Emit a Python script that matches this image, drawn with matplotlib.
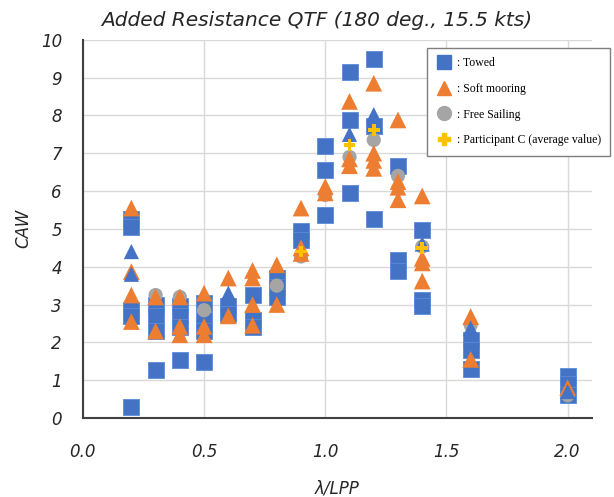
import matplotlib
matplotlib.use("Agg")
import matplotlib.pyplot as plt
from matplotlib.lines import Line2D

# Towed (blue squares)
towed_x = [0.2, 0.2, 0.2, 0.2, 0.2,
           0.3, 0.3, 0.3, 0.3,
           0.4, 0.4, 0.4, 0.4,
           0.5, 0.5, 0.5, 0.5,
           0.6, 0.6,
           0.7, 0.7, 0.7,
           0.8, 0.8, 0.8,
           0.9, 0.9,
           1.0, 1.0, 1.0,
           1.1, 1.1, 1.1,
           1.2, 1.2, 1.2,
           1.3, 1.3, 1.3,
           1.4, 1.4, 1.4,
           1.6, 1.6, 1.6,
           2.0, 2.0, 2.0]
towed_y = [5.25, 5.05, 2.85, 2.7, 0.3,
           3.0, 2.7, 2.3, 1.27,
           2.95, 2.7, 2.4, 1.53,
           3.05, 2.6, 2.3, 1.49,
           2.95, 2.75,
           3.25, 2.6, 2.4,
           3.7, 3.45, 3.2,
           4.95, 4.7,
           7.2, 6.55, 5.37,
           9.16, 7.88, 5.94,
           9.49, 7.71, 5.25,
           6.65, 4.19, 3.88,
           4.97, 3.12, 2.95,
           2.06, 1.8, 1.29,
           1.1, 0.9, 0.6]

# Soft mooring (orange triangles)
soft_x = [0.2, 0.2, 0.2, 0.2,
          0.3, 0.3,
          0.4, 0.4, 0.4,
          0.5, 0.5, 0.5,
          0.6, 0.6,
          0.7, 0.7, 0.7, 0.7,
          0.8, 0.8,
          0.9, 0.9, 0.9,
          1.0, 1.0,
          1.1, 1.1, 1.1,
          1.2, 1.2, 1.2, 1.2,
          1.3, 1.3, 1.3, 1.3,
          1.4, 1.4, 1.4, 1.4,
          1.6, 1.6,
          2.0]
soft_y = [5.55, 3.87, 3.25, 2.55,
          3.2, 2.3,
          3.2, 2.42, 2.2,
          3.3, 2.42, 2.2,
          3.7, 2.7,
          3.9, 3.7, 3.0, 2.45,
          4.05, 3.0,
          5.55, 4.5, 4.35,
          6.12, 5.95,
          8.37, 6.85, 6.67,
          8.85, 7.0, 6.81, 6.6,
          7.88, 6.25, 6.1, 5.77,
          5.87, 4.22, 4.1, 3.62,
          2.68, 1.55,
          0.8]

# Soft mooring, second participant (blue triangles)
soft2_x = [0.2, 0.2, 0.6, 1.1, 1.2, 1.4, 1.6, 2.0]
soft2_y = [4.4, 3.8, 3.3, 7.5, 8.02, 4.6, 2.38, 0.7]

# Free sailing (grey circles)
free_x = [0.3, 0.4, 0.5, 0.8, 0.9, 1.0, 1.1, 1.2, 1.3, 1.4, 1.6, 2.0]
free_y = [3.25, 3.2, 2.85, 3.5, 4.27, 5.9, 6.9, 7.35, 6.4, 4.53, 2.46, 0.6]

# Participant C average values (yellow plus)
partc_x = [0.9, 1.1, 1.2, 1.4]
partc_y = [4.4, 7.22, 7.62, 4.5]

x_ticks = [0.0, 0.5, 1.0, 1.5, 2.0]
x_ticklabels = ["0.0", "0.5", "1.0", "1.5", "2.0"]
y_ticks = list(range(0, 11))

BLUE = "#4472C4"
ORANGE = "#ED7D31"
GREY = "#A5A5A5"
YELLOW = "#FFC000"

fig = plt.figure(figsize=(6.14, 4.97), dpi=100)
ax = fig.add_axes([0.135, 0.159, 0.829, 0.761])

ax.scatter(towed_x, towed_y, marker="s", s=135, color=BLUE,
           edgecolors="#5B8BD9", linewidths=0.6, zorder=3)
ax.scatter(free_x, free_y, marker="o", s=105, color=GREY,
           edgecolors="none", zorder=4)
ax.scatter(soft_x, soft_y, marker="^", s=145, color=ORANGE,
           edgecolors="none", zorder=5)
ax.scatter(soft2_x, soft2_y, marker="^", s=120, color=BLUE,
           edgecolors="none", zorder=6)
ax.scatter(partc_x, partc_y, marker="P", s=70, color=YELLOW,
           edgecolors="none", zorder=7)

ax.set_xlim(0, 2.1)
ax.set_ylim(0, 10)
ax.set_xticks(x_ticks)
ax.set_xticklabels(x_ticklabels)
ax.set_yticks(y_ticks)
ax.grid(True, color="#D9D9D9", linewidth=1.0, zorder=0)
ax.set_axisbelow(True)

for side in ("top", "right"):
    ax.spines[side].set_visible(False)
for side in ("left", "bottom"):
    ax.spines[side].set_color("#404040")
    ax.spines[side].set_linewidth(1.5)

ax.tick_params(axis="both", length=0, labelsize=12, labelcolor="#262626")
ax.tick_params(axis="x", pad=18)
ax.tick_params(axis="y", pad=15)
for lab in ax.get_xticklabels() + ax.get_yticklabels():
    lab.set_fontstyle("italic")

ax.set_xlabel("λ/LPP", fontsize=12, fontstyle="italic", color="#262626",
              labelpad=13)
ax.set_ylabel("CAW", fontsize=12, fontstyle="italic", color="#262626",
              labelpad=6)
fig.text(0.515, 0.958, "Added Resistance QTF (180 deg., 15.5 kts)",
         fontsize=14.5, fontstyle="italic", color="#262626",
         ha="center", va="center")

handles = [
    Line2D([], [], linestyle="none", marker="s", markersize=10,
           color=BLUE),
    Line2D([], [], linestyle="none", marker="^", markersize=10,
           color=ORANGE),
    Line2D([], [], linestyle="none", marker="o", markersize=10,
           color=GREY),
    Line2D([], [], linestyle="none", marker="P", markersize=8,
           color=YELLOW),
]
labels = [": Towed", ": Soft mooring", ": Free Sailing",
          ": Participant C (average value)"]
leg = ax.legend(handles, labels, loc="upper left",
                bbox_to_anchor=(427 / 614, 1 - 48 / 497),
                bbox_transform=fig.transFigure,
                prop={"family": "Liberation Serif", "size": 8.5},
                frameon=True, fancybox=False, framealpha=1,
                edgecolor="#7F7F7F", handletextpad=0.5,
                handlelength=1.2, labelspacing=1.15, borderpad=0.8,
                borderaxespad=0)
leg.get_frame().set_linewidth(1.0)
leg.set_zorder(10)

fig.savefig("out.png", dpi=100)
